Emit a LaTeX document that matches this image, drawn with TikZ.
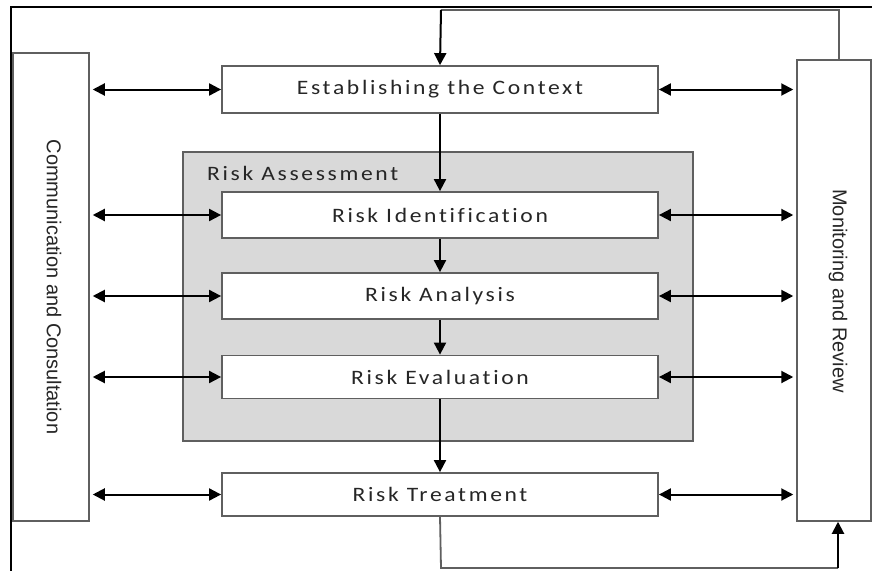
\documentclass[tikz,border=0pt]{standalone}
\usepackage{fontspec}
\setmainfont{Carlito}[LetterSpace=13,FakeStretch=1.15,Ligatures={NoCommon}]
\newfontfamily\sidefont{Liberation Sans}
\usetikzlibrary{arrows.meta}
\definecolor{boxline}{HTML}{5F5F5F}
\definecolor{assess}{HTML}{D9D9D9}
\definecolor{txt}{HTML}{262626}
\tikzset{
  stepbox/.style={draw=boxline, line width=1.8pt, fill=white, minimum width=436pt, inner sep=0pt, text=txt, font=\fontsize{20.5}{24}\selectfont},
  sidebox/.style={draw=boxline, line width=1.5pt, fill=white, inner sep=0pt},
  sidelabel/.style={rotate=-90, text=txt, font=\sidefont\fontsize{20}{24}\selectfont},
  arr/.style={draw=black, line width=2pt, -{Triangle[length=12pt,width=12pt]}},
  biarr/.style={draw=black, line width=2pt, {Triangle[length=12pt,width=12pt]}-{Triangle[length=12pt,width=12pt]}},
  loopline/.style={draw=boxline, line width=1.8pt},
}
\begin{document}
\begin{tikzpicture}[x=1pt,y=-1pt]
\useasboundingbox (0,0) rectangle (872,570);
\fill[white] (0,0) rectangle (872,570);
% outer frame (cropped)
\draw[black, line width=1.8pt] (11,575) -- (11,7) -- (880,7);
% side boxes
\node[sidebox, minimum width=76pt, minimum height=468pt] (comm) at (51,287) {};
\node[sidelabel] (commtxt) at (54,287) {Communication and Consultation};
\node[sidebox, minimum width=74pt, minimum height=461pt] (mon) at (834,290.5) {};
\node[sidelabel] (montxt) at (838,291) {Monitoring and Review};
% risk assessment group
\node[draw=boxline, line width=1.8pt, fill=assess, minimum width=510pt, minimum height=289pt, inner sep=0pt] (ra) at (438,296.5) {};
\node[anchor=west, text=txt, font=\fontsize{20.5}{24}\selectfont, inner sep=0pt] (ratxt) at (207,173) {Risk Assessment};
% step boxes
\node[stepbox, minimum height=47pt] (est) at (440,89.5) {Establishing the Context};
\node[stepbox, minimum height=46pt] (rid) at (440,215) {Risk Identification};
\node[stepbox, minimum height=46pt] (ran) at (440,296) {Risk Analysis};
\node[stepbox, minimum height=43pt] (rev) at (440,377) {Risk Evaluation};
\node[stepbox, minimum height=43pt] (rtr) at (440,494.5) {Risk Treatment};
% vertical flow
\draw[arr] (est.south) -- (rid.north);
\draw[arr] (rid.south) -- (ran.north);
\draw[arr] (ran.south) -- (rev.north);
\draw[arr] (rev.south) -- (rtr.north);
% side links
\foreach \b in {est,rid,ran,rev,rtr}{
  \draw[biarr] ([xshift=3pt]comm.east |- \b.west) -- (\b.west);
  \draw[biarr] (\b.east) -- ([xshift=-3pt]mon.west |- \b.east);
}
% top feedback loop
\coordinate (tl) at (441,10);
\coordinate (tr) at (839,10);
\draw[loopline] (tr |- mon.north) -- (tr) -- (tl);
\draw[arr] (tl) -- (est.north);
% bottom feedback loop
\coordinate (bl) at (441,568);
\coordinate (br) at (838,568);
\draw[loopline] (rtr.south) -- (bl) -- (br);
\draw[arr] (br) -- (br |- mon.south);
\end{tikzpicture}
\end{document}
